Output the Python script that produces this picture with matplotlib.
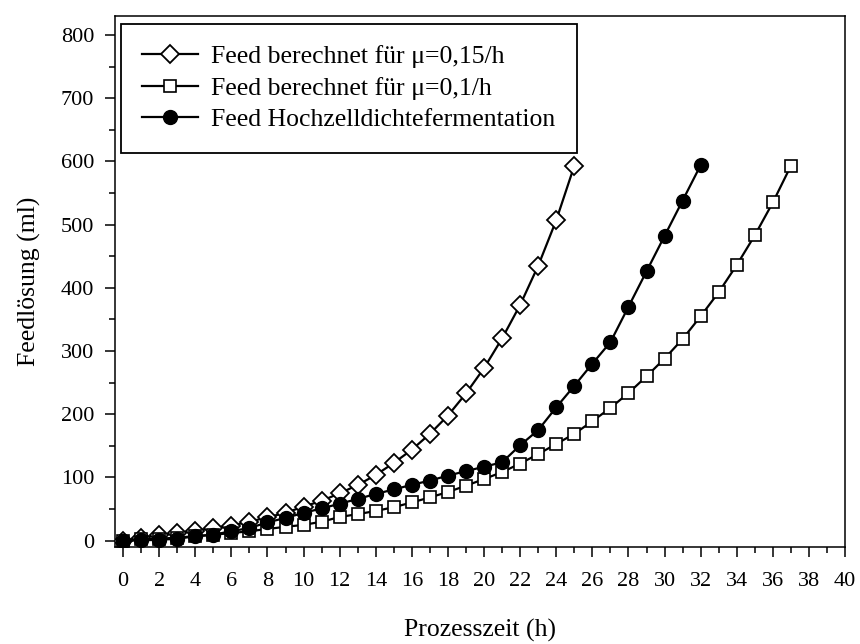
import matplotlib
matplotlib.use("Agg")
import matplotlib.pyplot as plt
from matplotlib.ticker import MultipleLocator

plt.rcParams['font.family'] = ['Liberation Serif', 'DejaVu Serif']

# Daten
zeit_015 = list(range(0, 26))
feed_015 = [0, 5, 9, 12, 16, 20, 24, 30, 37, 44, 54, 63, 75, 88, 104, 123,
            144, 169, 198, 233, 273, 320, 373, 435, 507, 593]

zeit_01 = list(range(0, 38))
feed_01 = [0, 2, 3, 5, 7, 9.5, 12, 15, 18.5, 22, 25, 30, 37.5, 42, 47, 53,
           60.5, 68.5, 77, 87, 97.5, 108.5, 122, 137, 153, 169, 189, 210,
           233.5, 260, 288, 319, 355, 393, 436, 483, 535, 593]

zeit_hzd = list(range(0, 33))
feed_hzd = [0, 0.5, 1.5, 3, 7, 9.5, 15, 20, 29, 36, 44, 51, 58.5, 66, 74, 81,
            88.5, 95, 103, 110, 117, 124, 151, 175, 211, 245, 280, 314, 370,
            426, 482, 538, 594]

labels = ["Feed berechnet für μ=0,15/h",
          "Feed berechnet für μ=0,1/h",
          "Feed Hochzelldichtefermentation"]

fig = plt.figure(figsize=(8.6, 6.44), dpi=100)
ax = fig.add_axes([0.1337, 0.1506, 0.8489, 0.8246])

ax.plot(zeit_015, feed_015, color='black', lw=1.6, marker='D', ms=9.5,
        mfc='white', mec='black', mew=1.3, label=labels[0], zorder=3)
ax.plot(zeit_01, feed_01, color='black', lw=1.6, marker='s', ms=9,
        mfc='white', mec='black', mew=1.2, label=labels[1], zorder=3)
ax.plot(zeit_hzd, feed_hzd, color='black', lw=1.6, marker='o', ms=10,
        mfc='black', mec='black', label=labels[2], zorder=4)

ax.set_xlim(-0.45, 40)
ax.set_ylim(-10, 830)
ax.xaxis.set_major_locator(MultipleLocator(2))
ax.xaxis.set_minor_locator(MultipleLocator(1))
ax.yaxis.set_major_locator(MultipleLocator(100))
ax.yaxis.set_minor_locator(MultipleLocator(50))
ax.tick_params(which='major', direction='out', length=7, width=1.1,
               labelsize=16)
ax.tick_params(axis='x', which='major', pad=11)
ax.tick_params(axis='y', which='major', pad=8)
ax.tick_params(which='minor', direction='out', length=4, width=1.1)
for s in ax.spines.values():
    s.set_linewidth(1.1)

ax.set_xlabel('Prozesszeit (h)', fontsize=18.5, labelpad=20)
ax.set_ylabel('Feedlösung (ml)', fontsize=18.5, labelpad=14)

leg = ax.legend(loc='upper left', bbox_to_anchor=(0.008, 0.985), fontsize=18.5,
                fancybox=False, edgecolor='black', framealpha=1,
                handlelength=2.2, handletextpad=0.5, labelspacing=0.34,
                borderpad=0.82, borderaxespad=0)
leg.get_frame().set_linewidth(1.3)

fig.savefig('out.png', dpi=100)
